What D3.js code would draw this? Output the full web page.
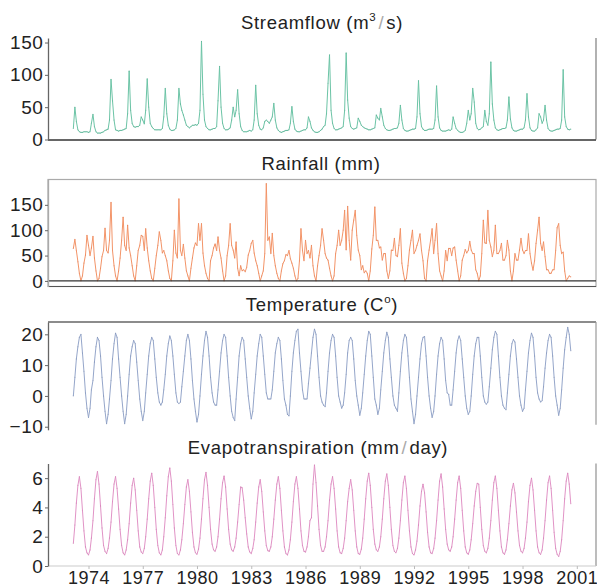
<!DOCTYPE html>
<html><head><meta charset="utf-8">
<script src="https://cdn.jsdelivr.net/npm/d3@7"></script>
<style>
body{margin:0;background:#fff}
svg{display:block}
text{font-family:"Liberation Sans",Arial,sans-serif;fill:#222}
</style>
</head><body>
<svg id="chart" width="597" height="588"></svg>
<script>
// ---- DATA (monthly, March 1973 – September 2000) ----
const startYear = 1973, startMonth = 3;
const yearTicks = [1974,1977,1980,1983,1986,1989,1992,1995,1998,2001];

const streamflow = [
 17,50,28,15,12,11,11,12,12,12,
 11,12,25,39,20,12,10,10,10,11,12,14,
 15,16,30,93,60,30,15,14,13,14,14,15,
 16,17,40,106,45,25,20,19,20,20,22,35,
 30,24,45,94,50,25,20,17,15,15,15,15,
 15,17,35,79,40,22,16,14,14,15,17,30,
 79,55,45,38,30,22,20,18,20,22,22,23,
 22,25,45,152,70,30,20,17,15,15,16,17,
 17,20,60,113,50,25,17,15,15,16,18,30,
 50,35,45,77,40,20,14,12,12,12,13,14,
 13,15,30,84,40,22,16,15,18,28,30,28,
 25,30,35,56,30,18,14,12,11,12,13,14,
 14,15,25,51,28,16,13,12,12,13,14,15,
 15,18,35,28,18,14,12,11,11,12,14,16,
 20,22,40,87,131,45,25,17,15,15,16,17,
 18,20,45,134,61,33,20,17,16,17,18,33,
 28,22,20,18,17,16,15,15,16,17,18,38,
 33,30,48,35,22,17,15,14,14,15,16,17,
 17,18,25,53,30,17,14,13,13,14,15,16,
 16,17,35,91,40,20,16,14,14,15,16,16,
 16,17,30,83,35,18,14,13,13,13,14,15,
 14,16,35,25,17,14,12,11,11,12,14,25,
 45,30,40,79,58,25,17,15,16,18,20,45,
 28,22,40,120,55,30,18,15,14,15,16,17,
 17,18,30,66,32,18,14,13,13,14,15,16,
 16,18,30,71,35,18,14,13,13,15,18,40,
 35,25,30,53,30,17,14,13,13,14,15,16,
 16,17,30,108,35,20,16,15,16
];

const rainfall = [
 64,82,60,38,15,0,10,35,51,90,
 70,50,65,88,45,20,0,5,25,48,60,104,
 60,55,80,155,60,30,10,0,20,45,80,126,
 70,60,110,65,50,30,10,0,30,60,70,90,
 88,60,103,65,40,20,5,0,25,50,70,97,
 80,55,60,50,40,20,5,0,40,100,55,45,
 162,60,50,72,45,20,10,0,25,45,65,75,
 70,113,80,113,55,30,15,5,0,40,50,65,
 73,60,87,60,45,20,0,10,50,70,113,70,
 61,45,77,25,10,30,20,22,18,27,51,60,
 74,80,55,40,30,15,0,10,20,54,192,80,
 87,54,94,50,30,15,5,0,20,34,40,52,
 50,60,44,35,25,10,0,5,40,103,60,40,
 80,54,60,45,70,30,10,0,30,50,70,103,
 80,54,45,41,25,10,0,10,54,70,100,70,
 80,100,139,61,147,80,41,100,120,139,90,61,
 50,22,30,16,20,15,0,20,63,90,146,80,
 80,65,67,41,54,54,20,5,20,61,60,84,
 50,48,70,103,35,15,0,5,30,61,80,100,
 54,60,70,80,93,60,40,5,0,40,61,80,
 103,54,80,113,54,20,10,0,20,60,40,64,
 64,50,65,67,41,20,0,10,41,50,62,55,
 60,78,61,54,54,22,15,0,10,54,120,75,
 74,139,80,67,48,60,110,54,54,60,74,41,
 41,50,80,61,20,0,20,54,41,41,61,84,
 61,54,60,60,93,54,35,21,40,74,100,126,
 74,60,77,48,22,22,15,15,22,22,60,105,
 113,70,54,57,20,0,5,10,8
];

const temperature = [
 0,6,12,16,19,20,14,8,1,-4,
 -7,-4,2,5,11,16,19,18,13,6,0,-5,
 -9,-6,-1,5,12,17,20.4,19,12,6,0,-5,
 -9,-6,0,7,13,16,18,17,11,5,-1,-5,
 -8,-5,1,7,13,17,19,18,12,6,1,-2,
 -3,-2,2,7,13,17,19.5,18,13,7,1,-2,
 -2.5,-2,3,8,13,18,20,18,12,5,-1,-5,
 -8.5,-6,0,7,13,18,21,19,13,6,1,-2,
 -3,-3,2,8,14,18,20,19,13,6,0,-5,
 -7,-8,-1,6,13,17,19,18,12,6,0,-4,
 -7.5,-5,1,7,13,17,20,19,13,7,1,-1,
 -1,-1,2,8,14,17,19,18,12,5,-1,-3,
 -6,-6.5,0,8,14,18,21,21.7,14,8,2,-1,
 -1,-1,4,9,14,19,21.7,20,13,6,0,-2,
 -3,-3.5,1,8,14,18,20,19,13,6,0,-2,
 -4,-3,1,7,14,18,19,18,12,5,0,-3,
 -6.3,-4,1,7,13,18,21,20,13,6,-1,-3,
 -6,-4,2,8,14,18,20.7,19,12,6,0,-3,
 -4,-5,1,8,14,18,20,19,13,6,-1,-5,
 -9,-6,0,6,12,17,19,19.3,13,6,0,-4,
 -7,-5,0,7,13,17,19,18,12,5,1,0.5,
 -3,-3,2,8,14,18,19.5,18,12,6,0,-4,
 -6,-5,0,7,13,17,19,19,13,6,0,-2,
 -2.7,-2,3,9,15,19,21,20,13,6,0,-3,
 -4,-4.5,1,7,13,17,18.3,17.5,12,6,0,-3,
 -5,-4,2,8,14,18,20.4,19,13,6,1,-1,
 -2,-1.5,3,9,14,18,20,19,13,6,0,-3,
 -6.3,-4,2,9,15,19,22.3,20,14.7
];

const evapotranspiration = [
 1.55,2.8,4.3,5.5,6.1,5.3,3.8,2.4,1.3,0.9,
 0.75,1.1,1.9,3.1,4.6,5.9,6.45,5.6,4.1,2.6,1.4,1.0,
 0.85,1.2,1.9,3.0,4.4,5.6,6.1,5.3,3.9,2.5,1.4,0.9,
 0.75,1.1,1.8,2.9,4.3,5.5,6.0,5.2,3.8,2.4,1.3,0.95,
 0.85,1.2,2.0,3.2,4.6,5.8,6.35,5.5,4.0,2.5,1.4,0.9,
 0.75,1.1,2.0,3.3,4.8,6.1,6.7,5.8,4.2,2.6,1.4,0.85,
 0.75,1.1,1.8,2.9,4.2,5.4,5.9,5.1,3.7,2.3,1.3,0.9,
 0.8,1.15,1.9,3.2,4.6,5.9,6.4,5.5,4.0,2.5,1.5,1.1,
 1.0,1.3,2.0,3.2,4.6,5.7,6.15,5.4,3.9,2.5,1.5,1.1,
 1.0,1.3,1.9,3.0,4.2,5.4,5.35,4.5,3.3,2.2,1.3,0.95,
 0.85,1.2,1.8,3.0,4.3,5.4,5.9,5.1,3.7,2.4,1.4,1.05,
 1.0,1.3,2.0,3.2,4.5,5.6,6.1,5.3,3.8,2.4,1.3,0.85,
 0.75,1.1,1.8,3.0,4.4,5.6,6.1,5.3,3.9,2.4,1.4,1.0,
 0.95,1.3,2.0,3.1,3.3,5.6,6.9,5.7,4.1,2.5,1.4,1.0,
 1.0,1.3,2.0,3.1,4.5,5.6,6.1,5.3,3.9,2.4,1.3,0.9,
 0.85,1.2,1.9,3.1,4.4,5.3,5.9,5.2,3.8,2.4,1.3,0.85,
 0.8,1.15,1.9,3.2,4.6,5.8,6.35,5.5,4.0,2.5,1.5,1.1,
 1.0,1.3,2.0,3.2,4.6,5.8,6.3,5.5,4.0,2.5,1.4,1.0,
 0.9,1.2,1.9,3.1,4.5,5.7,6.15,5.3,3.8,2.4,1.3,0.85,
 0.75,1.1,1.7,2.8,4.1,5.1,5.6,5.0,3.7,2.3,1.3,0.9,
 0.85,1.2,1.9,3.1,4.5,5.8,6.3,5.4,3.9,2.5,1.5,1.1,
 1.0,1.3,2.0,3.2,4.5,5.7,6.15,5.3,3.8,2.4,1.3,0.9,
 0.8,1.1,1.8,2.9,4.1,5.1,5.65,5.6,4.0,2.5,1.4,1.0,
 0.9,1.2,1.9,3.1,4.5,5.7,6.15,5.3,3.8,2.4,1.3,0.9,
 0.8,1.1,1.8,2.9,4.1,5.2,5.65,5.0,3.7,2.4,1.4,1.0,
 0.9,1.2,1.9,3.0,4.4,5.5,6.0,5.2,3.8,2.4,1.3,0.9,
 0.8,1.1,1.9,3.1,4.5,5.7,6.15,5.3,3.8,2.3,1.2,0.8,
 0.65,1.0,1.8,3.1,4.6,5.8,6.35,5.6,4.25
];

const streamTicks = [0,50,100,150];
const rainTicks = [0,50,100,150];
const tempTicks = [-10,0,10,20];
const etTicks = [0,2,4,6];

// ---- DRAW ----
const svg = d3.select("#chart");
const L = 48, R = 596;
const dates = streamflow.map((_, i) => new Date(startYear, startMonth - 1 + i, 1));
const x = d3.scaleTime()
  .domain([new Date(1974,0,1), new Date(2001,0,1)])
  .range([88.5, 576.8]);

const panels = [
  {values: streamflow, color:"#6cc4a6", dot:"#4fa78b", domain:[0,157], range:[139.5,38], ticks:streamTicks,
   title:[["Streamflow (m",0],["3",1],["/",2],["s)",0]], tx:322, ty:29},
  {values: rainfall, color:"#f39468", dot:"#e0744a", domain:[-11,200], range:[286.5,179.5], ticks:rainTicks,
   title:[["Rainfall (mm)",0]], tx:321, ty:170},
  {values: temperature, color:"#95a6ca", dot:"#7486ad", domain:[-11,24], range:[429.8,322], ticks:tempTicks,
   title:[["Temperature (C",0],["o",1],[")",0]], tx:322, ty:311},
  {values: evapotranspiration, color:"#e193c6", dot:"#c873aa", domain:[0,7], range:[566,463.5], ticks:etTicks,
   title:[["Evapotranspiration (mm",0],["/",2],["day)",0]], tx:318, ty:454}
];

panels.forEach((p, k) => {
  const y = d3.scaleLinear().domain(p.domain).range(p.range);
  const g = svg.append("g");
  // frames
  if (k === 0) {
    g.append("line").attr("x1",R).attr("x2",R).attr("y1",p.range[1]).attr("y2",p.range[0]).attr("stroke","#888").attr("stroke-width",1.3);
  } else if (k === 1) {
    g.append("rect").attr("x",L).attr("y",p.range[1]).attr("width",R-L).attr("height",p.range[0]-p.range[1])
      .attr("fill","none").attr("stroke","#aaa").attr("stroke-width",1.2);
    g.append("line").attr("x1",L).attr("x2",R).attr("y1",p.range[0]).attr("y2",p.range[0]).attr("stroke","#555").attr("stroke-width",1.2);
  } else if (k === 2) {
    g.append("line").attr("x1",L).attr("x2",R).attr("y1",p.range[1]).attr("y2",p.range[1]).attr("stroke","#666").attr("stroke-width",1.3);
    g.append("line").attr("x1",R).attr("x2",R).attr("y1",p.range[1]).attr("y2",p.range[0]-5).attr("stroke","#999").attr("stroke-width",1.2);
  } else {
    g.append("line").attr("x1",R).attr("x2",R).attr("y1",p.range[1]).attr("y2",p.range[0]).attr("stroke","#999").attr("stroke-width",1.3);
  }

  // data line
  const line = d3.line().x((d,i) => x(dates[i])).y(d => y(d));
  g.append("path").datum(p.values)
    .attr("fill","none").attr("stroke",p.color).attr("stroke-width",1)
    .attr("stroke-linejoin","round").attr("d", line);
  // faint point markers
  g.append("g").selectAll("circle").data(p.values).join("circle")
    .attr("cx",(d,i) => x(dates[i])).attr("cy", d => y(d)).attr("r",0.6)
    .attr("fill",p.dot).attr("opacity",0.55);

  // zero / base lines
  if (k === 0) {
    g.append("line").attr("x1",L).attr("x2",R).attr("y1",y(0)+0.5).attr("y2",y(0)+0.5).attr("stroke","#333").attr("stroke-width",1.5);
  } else if (k === 1) {
    g.append("line").attr("x1",L).attr("x2",R).attr("y1",y(0)).attr("y2",y(0)).attr("stroke","#333").attr("stroke-width",1.3);
  } else if (k === 3) {
    g.append("line").attr("x1",L).attr("x2",R).attr("y1",y(0)).attr("y2",y(0)).attr("stroke","#ccc").attr("stroke-width",1.2);
  }

  // y axis
  const ax = g.append("g").attr("transform",`translate(${L},0)`)
    .call(d3.axisLeft(y).tickValues(p.ticks).tickFormat(d3.format("d"))
      .tickSize(3).tickSizeOuter(0).tickPadding(1.5));
  ax.select(".domain").attr("stroke", k===1 ? "#aaa" : "#666").attr("stroke-width",1.3);
  ax.selectAll(".tick line").attr("stroke","#666");
  ax.selectAll(".tick text").attr("font-size","19px").attr("letter-spacing","0.6px")
    .attr("fill","#222").style("font-family",'"Liberation Sans",Arial,sans-serif');

  // title
  const t = svg.append("text").attr("x",p.tx).attr("y",p.ty).attr("text-anchor","middle")
    .attr("font-size","18.5px").attr("letter-spacing","0.7px");
  p.title.forEach(([s, kind]) => {
    const ts = t.append("tspan").text(s);
    if (kind === 1) ts.attr("font-size","11.5px").attr("dy","-8");
    if (kind === 2) ts.attr("fill","#aaa").attr("dx","2").attr("dy", p.title[0][0].startsWith("Stream") ? "8" : "0");
    if (kind === 0 && s.startsWith("s)")) ts.attr("dx","2");
    if (kind === 0 && s === ")") ts.attr("dy","8");
    if (kind === 0 && s.startsWith("day")) ts.attr("dx","2");
  });
});

// x axis (bottom)
const xa = svg.append("g").attr("transform","translate(0,566)")
  .call(d3.axisBottom(x).tickValues(yearTicks.map(yv => new Date(yv,0,1)))
    .tickFormat(d3.timeFormat("%Y")).tickSize(3).tickSizeOuter(0).tickPadding(2));
xa.select(".domain").remove();
xa.selectAll(".tick line").attr("stroke","#bbb");
xa.selectAll(".tick text").attr("font-size","18px").attr("letter-spacing","0.5px")
  .attr("fill","#222").style("font-family",'"Liberation Sans",Arial,sans-serif');
</script>
</body></html>
